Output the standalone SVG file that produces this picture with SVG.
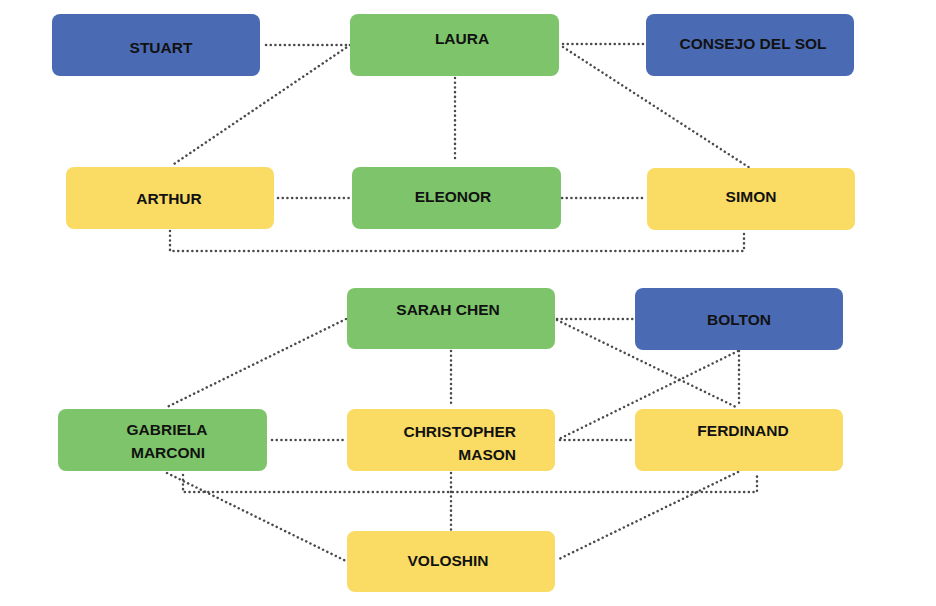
<svg xmlns="http://www.w3.org/2000/svg" width="936" height="606" viewBox="0 0 936 606">
<style>
.blue{fill:#4A6BB3}
.green{fill:#7DC46A}
.yellow{fill:#FADC64}
text{font-family:"Liberation Sans",Arial,sans-serif;font-weight:bold;font-size:15.5px;fill:#111;text-anchor:middle}
.c line,.c polyline{stroke:#4a4a4a;stroke-width:2.5;stroke-dasharray:0.1 4.6;stroke-linecap:round;fill:none}
</style>
<rect width="936" height="606" fill="#fff"/>
<g class="c" id="connectors">
<line x1="266" y1="45" x2="350" y2="45"/>
<line x1="350" y1="45" x2="171" y2="166"/>
<line x1="455" y1="78" x2="455" y2="162"/>
<line x1="278" y1="198" x2="352" y2="198"/>
<line x1="563" y1="44" x2="643" y2="44"/>
<line x1="563" y1="47" x2="750" y2="168"/>
<line x1="562" y1="198" x2="646" y2="198"/>
<polyline points="170,231 170,251 744,251 744,233"/>
<line x1="346" y1="319" x2="167" y2="407"/>
<line x1="451" y1="351" x2="451" y2="407"/>
<line x1="557" y1="319" x2="634" y2="319"/>
<line x1="557" y1="320" x2="736" y2="407"/>
<line x1="738" y1="351" x2="559" y2="439"/>
<line x1="739" y1="351" x2="739" y2="407"/>
<line x1="272" y1="440" x2="346" y2="440"/>
<line x1="560" y1="440" x2="634" y2="440"/>
<line x1="167" y1="473" x2="346" y2="561"/>
<polyline points="183,475 183,492 757,492 757,475"/>
<line x1="451" y1="473" x2="451" y2="530"/>
<line x1="738" y1="472" x2="559" y2="559"/>
</g>
<g id="stuart"><rect class="blue" x="52" y="14" width="208" height="62" rx="8"/><text x="161" y="53">STUART</text></g>
<g id="laura"><rect class="green" x="350" y="14" width="209" height="62" rx="8"/><text x="462" y="44">LAURA</text></g>
<g id="consejo"><rect class="blue" x="646" y="14" width="208" height="62" rx="8"/><text x="753" y="49">CONSEJO DEL SOL</text></g>
<g id="arthur"><rect class="yellow" x="66" y="167" width="208" height="62" rx="8"/><text x="169" y="204">ARTHUR</text></g>
<g id="eleonor"><rect class="green" x="352" y="167" width="209" height="62" rx="8"/><text x="453" y="202">ELEONOR</text></g>
<g id="simon"><rect class="yellow" x="647" y="168" width="208" height="62" rx="8"/><text x="751" y="202">SIMON</text></g>
<g id="sarah"><rect class="green" x="347" y="288" width="208" height="61" rx="8"/><text x="448" y="315">SARAH CHEN</text></g>
<g id="bolton"><rect class="blue" x="635" y="288" width="208" height="62" rx="8"/><text x="739" y="325">BOLTON</text></g>
<g id="gabriela"><rect class="green" x="58" y="409" width="209" height="62" rx="8"/><text x="167" y="435">GABRIELA</text><text x="168" y="458">MARCONI</text></g>
<g id="christopher"><rect class="yellow" x="347" y="409" width="208" height="62" rx="8"/><text x="516" y="437" style="text-anchor:end">CHRISTOPHER</text><text x="516" y="460" style="text-anchor:end">MASON</text></g>
<g id="ferdinand"><rect class="yellow" x="635" y="409" width="208" height="62" rx="8"/><text x="743" y="436">FERDINAND</text></g>
<g id="voloshin"><rect class="yellow" x="347" y="531" width="208" height="61" rx="8"/><text x="448" y="566">VOLOSHIN</text></g>
</svg>
